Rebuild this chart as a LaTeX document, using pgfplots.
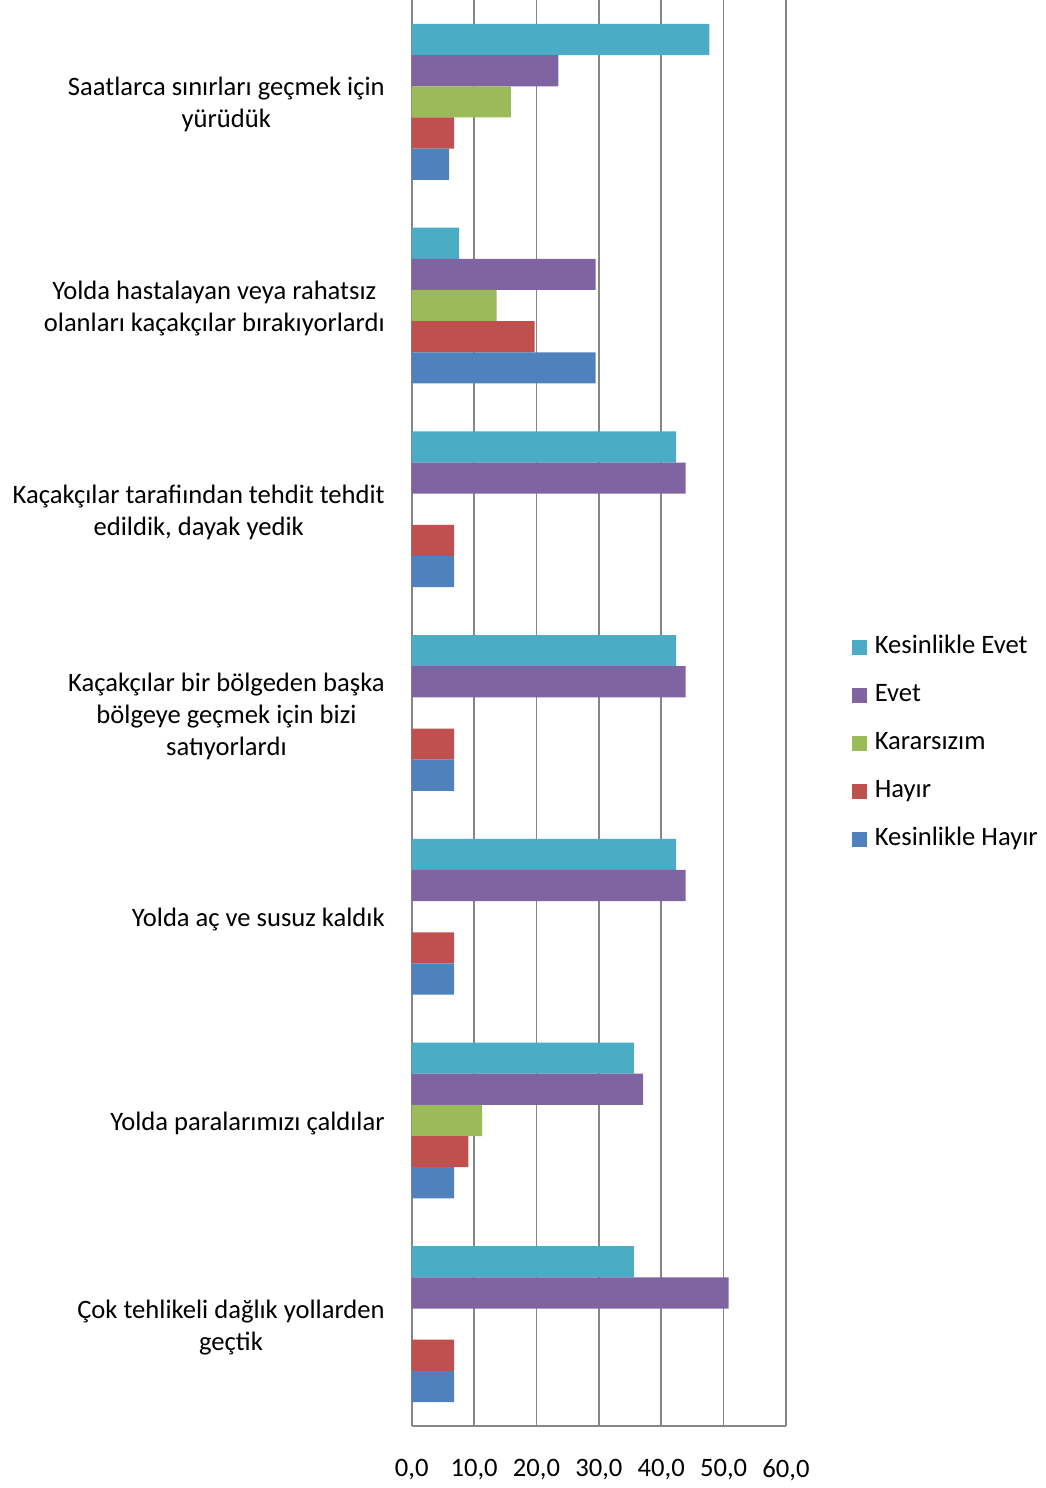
\documentclass[border=0pt]{standalone}
\usepackage{pgfplots}
\pgfplotsset{compat=1.18}
\usepackage{fontspec}
\setmainfont{Carlito}
\definecolor{cKE}{HTML}{4BACC6}
\definecolor{cEv}{HTML}{8064A2}
\definecolor{cKa}{HTML}{9BBB59}
\definecolor{cHa}{HTML}{C0504D}
\definecolor{cKH}{HTML}{4F81BD}
\definecolor{gridc}{HTML}{868686}
\begin{document}
\fontsize{13.3}{16}\selectfont
\begin{tikzpicture}
\useasboundingbox (0,0) rectangle (522.5pt,744pt);
\begin{axis}[
  at={(205.85pt,31pt)}, anchor=south west,
  scale only axis, width=187.15pt, height=713pt,
  xbar, bar width=0.153,
  xmin=0, xmax=60, ymin=-0.5, ymax=6.5,
  xtick={0,10,...,60},
  ytick={0,...,6},
  yticklabels={{Çok tehlikeli dağlık yollarden\\geçtik},
               {Yolda paralarımızı çaldılar},
               {Yolda aç ve susuz kaldık},
               {Kaçakçılar bir bölgeden başka\\bölgeye geçmek için bizi\\satıyorlardı},
               {Kaçakçılar tarafiından tehdit tehdit\\edildik, dayak yedik},
               {Yolda hastalayan veya rahatsız\\olanları kaçakçılar bırakıyorlardı},
               {Saatlarca sınırları geçmek için\\yürüdük}},
  yticklabel style={anchor=east, align=center, inner sep=0pt, xshift=-13.3pt, yshift=-1.5pt, font=\fontsize{13.3}{16}\selectfont},
  xticklabel style={anchor=north, inner sep=0pt, yshift=-16.5pt, font=\fontsize{13.3}{16}\selectfont},
  /pgf/number format/.cd, fixed, fixed zerofill, precision=1, use comma, assume math mode=true,
  /pgfplots/.cd,
  major tick length=0pt,
  axis x line*=bottom, axis y line*=left,
  axis line style={-, draw=gridc, line width=0.8pt},
  xmajorgrids, major grid style={draw=gridc, line width=0.8pt},
  legend cell align=left,
  legend style={at={(1.1763,0.555)}, anchor=north west, draw=none, fill=none,
    inner sep=0pt, row sep=11.3pt, column sep=4pt,
    nodes={inner sep=0pt, text height=9.4pt, text depth=3.3pt, anchor=west, font=\fontsize{13.3}{16}\selectfont}},
  legend image code/.code={\fill[#1] (0pt,-3.6pt) rectangle (7.2pt,3.6pt);},
]
\addplot[fill=cKE, draw=none, bar shift=0.306] coordinates {
 (35.6,0) (35.6,1) (42.4,2) (42.4,3) (42.4,4) (7.6,5) (47.7,6)};
\addplot[fill=cEv, draw=none, bar shift=0.153] coordinates {
 (50.8,0) (37.1,1) (43.9,2) (43.9,3) (43.9,4) (29.5,5) (23.5,6)};
\addplot[fill=cKa, draw=none, bar shift=0] coordinates {
 (11.3,1) (13.6,5) (15.9,6)};
\addplot[fill=cHa, draw=none, bar shift=-0.153] coordinates {
 (6.8,0) (9.1,1) (6.8,2) (6.8,3) (6.8,4) (19.7,5) (6.8,6)};
\addplot[fill=cKH, draw=none, bar shift=-0.306] coordinates {
 (6.8,0) (6.8,1) (6.8,2) (6.8,3) (6.8,4) (29.5,5) (6.0,6)};
\legend{Kesinlikle Evet, Evet, Kararsızım, Hayır, Kesinlikle Hayır}
\end{axis}
\end{tikzpicture}
\end{document}
